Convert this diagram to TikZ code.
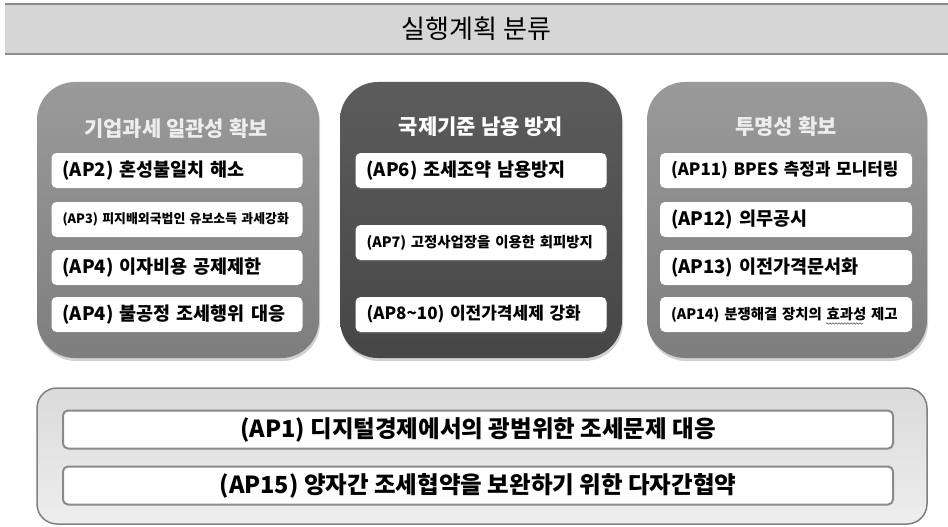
\documentclass[tikz,border=0pt]{standalone}
\usepackage{fontspec}
\setmainfont{Noto Sans CJK KR}
\usetikzlibrary{shadows,decorations.pathmorphing}
\definecolor{barfill}{HTML}{D6D6D6}
\definecolor{barline}{HTML}{8C8C8C}
\definecolor{sidetop}{HTML}{9A9A9A}
\definecolor{sidebot}{HTML}{7E7E7E}
\definecolor{midtop}{HTML}{5C5C5C}
\definecolor{midbot}{HTML}{464646}
\definecolor{sidetitle}{HTML}{EDEDED}
\definecolor{lowtop}{HTML}{DADADA}
\definecolor{lowbot}{HTML}{EEEEEE}
\definecolor{lowline}{HTML}{808080}
\definecolor{barborder}{HTML}{8A8A8A}
\definecolor{wavecol}{HTML}{707070}
\newcommand{\midfont}{\bfseries\fontsize{14.4}{17}\selectfont}
\tikzset{
  topbar/.style={fill=barfill, minimum width=943pt, minimum height=50pt, inner sep=0pt,
    font=\fontsize{26}{28}\selectfont, text=black},
  sidepanel/.style={rounded corners=38pt, top color=sidetop, bottom color=sidebot,
    minimum width=282pt, minimum height=276pt, inner sep=0pt,
    drop shadow={opacity=0.35, shadow xshift=1pt, shadow yshift=-3pt}},
  midpanel/.style={sidepanel, top color=midtop, bottom color=midbot},
  ptitle/.style={font=\bfseries\fontsize{21}{24}\selectfont, text=sidetitle, inner sep=0pt},
  itembox/.style={fill=white, rounded corners=5pt, minimum height=35pt, text width=229pt,
    inner xsep=11pt, inner ysep=0pt, align=left, text=black,
    drop shadow={opacity=0.3, shadow xshift=0.5pt, shadow yshift=-1.5pt}},
  big/.style={font=\bfseries\fontsize{18.5}{22}\selectfont},
  small/.style={font=\bfseries\fontsize{12.9}{15}\selectfont},
  mid/.style={font=\midfont},
  wavy/.style={wavecol, line width=0.7pt, decorate,
    decoration={snake, amplitude=0.7pt, segment length=3pt}},
  lowpanel/.style={rounded corners=20pt, top color=lowtop, bottom color=lowbot, draw=lowline,
    line width=1.5pt, minimum width=890pt, minimum height=136pt, inner sep=0pt},
  lowbar/.style={fill=white, draw=barborder, line width=2pt, rounded corners=5pt,
    minimum width=830pt, minimum height=38pt, inner sep=0pt,
    font=\bfseries\fontsize{23.5}{26}\selectfont, text=black},
}
\begin{document}
\begin{tikzpicture}[x=1pt,y=-1pt]
\useasboundingbox (0,0) rectangle (948,527);
\fill[white] (0,0) rectangle (948,527);

% top bar
\node[topbar] (top) at (476.5,29) {실행계획 분류};
\draw[barline, line width=2.5pt] (top.north west) -- (top.north east);
\draw[barline, line width=2.5pt] (top.south west) -- (top.south east);

% three panels
\node[sidepanel] (p1) at (178,220) {};
\node[midpanel] (p2) at (481,220) {};
\node[sidepanel, minimum width=280pt] (p3) at (787,220) {};

\node[ptitle] (t1) at (176,129) {기업과세 일관성 확보};
\node[ptitle, text=white] (t2) at (481,127) {국제기준 남용 방지};
\node[ptitle] (t3) at (786,127) {투명성 확보};

% left panel items
\node[itembox, big] (a2) at (177,170.5) {(AP2) 혼성불일치 해소};
\node[itembox, small] (a3) at (177,219.5) {(AP3) 피지배외국법인 유보소득 과세강화};
\node[itembox, big] (a4) at (177,267.5) {(AP4) 이자비용 공제제한};
\node[itembox, big] (a4b) at (177,314.5) {(AP4) 불공정 조세행위 대응};

% middle panel items
\node[itembox, big] (a6) at (481,170.5) {(AP6) 조세조약 남용방지};
\node[itembox, mid] (a7) at (481,242.5) {(AP7) 고정사업장을 이용한 회피방지};
\node[itembox, font=\bfseries\fontsize{17}{20}\selectfont] (a8) at (481,314.5) {(AP8\textasciitilde10) 이전가격세제 강화};

% right panel items
\node[itembox, text width=230pt, font=\bfseries\fontsize{16.9}{20}\selectfont] (a11) at (786,170.5) {(AP11) BPES 측정과 모니터링};
\node[itembox, text width=230pt, big] (a12) at (786,219.5) {(AP12) 의무공시};
\node[itembox, text width=230pt, big] (a13) at (786,267.5) {(AP13) 이전가격문서화};
\node[itembox, text width=230pt, mid] (a14) at (786,314.5) {(AP14) 분쟁해결 장치의 효과성 제고};
% wavy proofing mark under the word
\coordinate (w0) at (826,323.5);
\coordinate (w1) at (863,323.5);
\draw[wavy] (w0) -- (w1);

% bottom panel
\node[lowpanel] (low) at (482,456) {};
\node[lowbar] (a1) at (478,429.5) {(AP1) 디지털경제에서의 광범위한 조세문제 대응};
\node[lowbar] (a15) at (478,485.5) {(AP15) 양자간 조세협약을 보완하기 위한 다자간협약};
\end{tikzpicture}
\end{document}
